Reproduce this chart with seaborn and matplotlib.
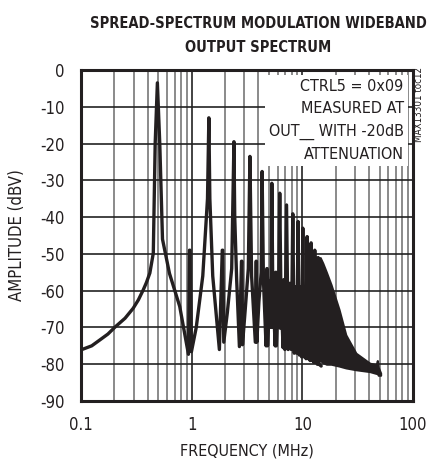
import numpy as np
import pandas as pd
import matplotlib
matplotlib.use("Agg")
import matplotlib.pyplot as plt
import seaborn as sns

# ---- data ----
freq_mhz = [0.100, 0.125, 0.148, 0.175, 0.203, 0.250, 0.296, 0.330, 0.365, 0.390, 0.419, 0.450,
            0.468, 0.490, 0.515, 0.545, 0.630, 0.780, 0.935,
            0.955, 0.965, 0.995, 1.100, 1.260, 1.390, 1.430, 1.460, 1.550, 1.780,
            1.890, 1.910, 1.950, 2.100, 2.300, 2.410, 2.450, 2.550, 2.700,
            2.820, 2.850, 2.880, 3.050, 3.250, 3.360, 3.480, 3.760,
            3.820, 3.850, 3.880, 4.050, 4.250, 4.330, 4.450, 4.700,
            4.780, 4.810, 4.850, 5.050, 5.230, 5.300, 5.400, 5.680,
            5.750, 5.780, 5.820, 6.100, 6.250, 6.400, 6.700,
            6.800, 6.950, 7.200, 7.450, 7.700, 7.950, 8.200, 8.450, 8.700, 8.900,
            9.150, 9.400, 9.650, 9.850, 10.10, 10.35, 10.60, 10.80, 11.05, 11.30,
            11.55, 11.75, 12.00, 12.25, 12.50, 12.70, 12.95, 13.20, 13.45, 13.65,
            13.90, 14.15, 14.80]
amp_dbv = [-76.1, -75.0, -73.4, -71.8, -69.9, -67.5, -64.8, -62.5, -59.8, -57.8, -55.2, -49.8,
           -20.0, -3.5, -20.0, -46.0, -55.3, -64.3, -77.3,
           -49.0, -49.0, -76.6, -70.0, -56.0, -35.0, -13.0, -35.0, -56.0, -76.0,
           -49.0, -49.0, -74.0, -66.0, -54.0, -19.5, -40.0, -57.0, -75.2,
           -52.0, -52.0, -74.7, -65.0, -54.0, -23.5, -56.0, -74.0,
           -52.0, -52.0, -74.0, -63.0, -55.0, -27.6, -57.0, -75.0,
           -54.0, -54.0, -75.0, -62.0, -56.0, -30.8, -58.0, -75.0,
           -55.0, -55.0, -75.0, -60.0, -33.5, -60.0, -75.5,
           -57.0, -76.0, -36.7, -76.0, -58.0, -76.0, -39.1, -77.0, -59.0, -77.0,
           -41.2, -77.5, -59.0, -78.0, -43.0, -78.0, -60.0, -78.5, -45.3, -78.5,
           -60.0, -79.0, -47.0, -79.0, -62.0, -79.5, -49.0, -79.5, -62.0, -80.0,
           -51.0, -80.0, -80.5]

# dense spread-spectrum band (upper / lower edges of the filled region)
band_freq = [4.7, 5.0, 6.0, 7.3, 8.5, 10.0, 12.0, 13.5, 14.5, 15.3, 16.5, 18.2, 21.5, 24.7, 30.5,
             40.6, 46.5, 47.6, 48.5, 51.0]
band_upper = [-62.0, -57.0, -56.5, -58.5, -59.5, -60.0, -58.0, -53.0, -51.0, -52.5, -55.0, -58.4, -65.2,
              -72.0, -77.0, -79.7, -80.2, -79.0, -80.8, -82.4]
band_lower = [-66.0, -70.0, -70.0, -71.0, -72.0, -74.0, -76.0, -78.0, -79.0, -79.5, -80.0, -80.0, -80.5,
              -81.0, -81.5, -82.0, -82.5, -82.5, -83.0, -83.0]

x_ticks = [0.1, 1, 10, 100]
x_tick_labels = ["0.1", "1", "10", "100"]
y_ticks = [0, -10, -20, -30, -40, -50, -60, -70, -80, -90]

sns.set_style("white")
plt.rcParams["font.family"] = ["DejaVu Sans"]
plt.rcParams["font.stretch"] = "condensed"

INK = "#231f20"

fig = plt.figure(figsize=(4.41, 4.62), dpi=100)
ax = fig.add_axes([81 / 441, 61 / 462, 332 / 441, 331 / 462])

df = pd.DataFrame({"f": freq_mhz, "a": amp_dbv})
ax.fill_between(band_freq, band_lower, band_upper, color=INK, lw=1.5, zorder=3)
sns.lineplot(data=df, x="f", y="a", ax=ax, color=INK, lw=2.4, sort=False,
             estimator=None, zorder=4)

ax.set_xscale("log")
ax.set_xlim(0.1, 100)
ax.set_ylim(-90, 0)
ax.set_xticks(x_ticks)
ax.set_xticklabels(x_tick_labels)
ax.set_yticks(y_ticks)
ax.set_yticklabels([str(v) for v in y_ticks])
ax.xaxis.set_minor_locator(matplotlib.ticker.LogLocator(base=10, subs=np.arange(2, 10)))
ax.xaxis.set_minor_formatter(matplotlib.ticker.NullFormatter())

ax.grid(True, which="major", axis="both", color="#222222", lw=1.2, zorder=1)
ax.grid(True, which="minor", axis="x", color="#777777", lw=1.2, zorder=1)
ax.set_axisbelow(True)

ax.tick_params(axis="both", which="both", length=0, labelsize=12, colors=INK)
ax.tick_params(axis="x", pad=11)
ax.tick_params(axis="y", pad=12)
for s in ax.spines.values():
    s.set_linewidth(2.2)
    s.set_color(INK)
    s.set_zorder(6)

ax.set_xlabel("FREQUENCY (MHz)", fontsize=11.5, color=INK, labelpad=7)
ax.set_ylabel("AMPLITUDE (dBV)", fontsize=12, color=INK, labelpad=10)

fig.text(258 / 441, 1 - 28 / 462, "SPREAD-SPECTRUM MODULATION WIDEBAND", ha="center", va="baseline",
         fontsize=10.5, fontweight="bold", color=INK)
fig.text(258 / 441, 1 - 52 / 462, "OUTPUT SPECTRUM", ha="center", va="baseline",
         fontsize=10.5, fontweight="bold", color=INK)

ax.text(0.972, 0.972, "CTRL5 = 0x09\nMEASURED AT\nOUT__ WITH -20dB\nATTENUATION",
        transform=ax.transAxes, ha="right", va="top", fontsize=11.5, color=INK,
        linespacing=1.6, zorder=2.5,
        bbox=dict(facecolor="white", edgecolor="none", pad=3))

fig.text(419 / 441, 1 - 104 / 462, "MAX13301 toc12", rotation=90, ha="center", va="center",
         fontsize=7, color=INK)

fig.savefig("out.png", dpi=100)
